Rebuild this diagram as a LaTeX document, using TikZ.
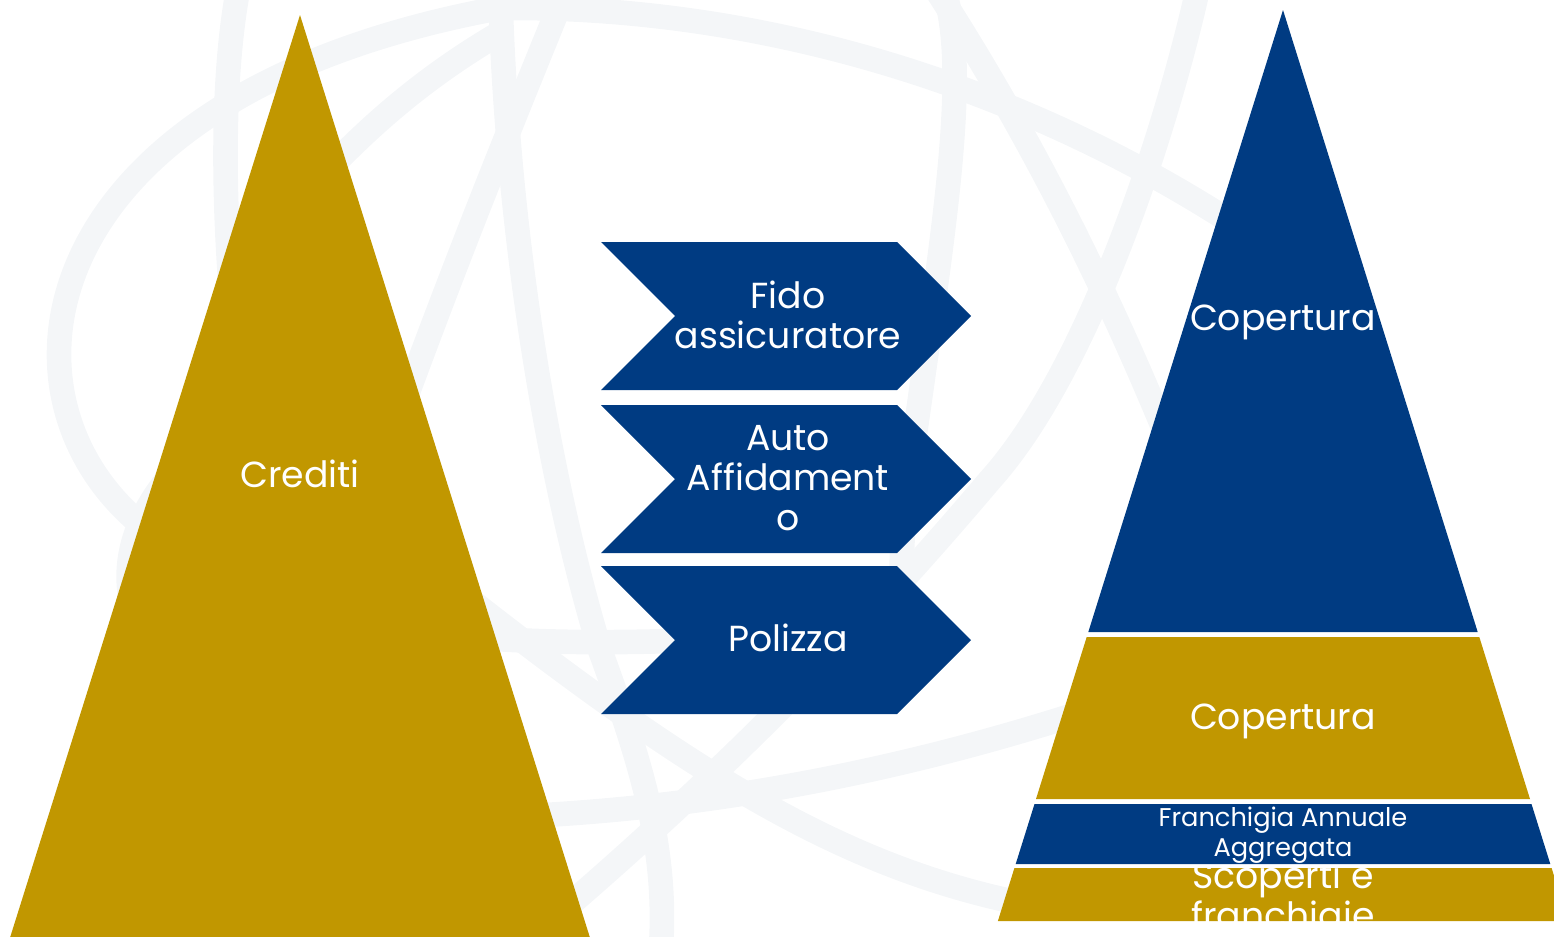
\documentclass[tikz,border=0pt]{standalone}
\usepackage{fontspec}
\setmainfont{Poppins}
\usepackage{tikz}
\usetikzlibrary{calc}

\definecolor{oro}{RGB}{193,151,0}
\definecolor{blu}{RGB}{0,59,130}
\definecolor{sfondo}{RGB}{244,246,248}

\tikzset{
  swirl/.style={draw=sfondo,line width=7pt},
  lbl/.style={text=white,align=center,inner sep=0pt,font=\fontsize{10.3}{11.4}\selectfont},
  lblsmall/.style={text=white,align=center,inner sep=0pt,font=\fontsize{7.3}{8.5}\selectfont}
}

\begin{document}
\begin{tikzpicture}[x=0.01cm,y=-0.01cm]
            \useasboundingbox (0,0) rectangle (1554,936);
            \clip (0,0) rectangle (1554,936);
            % faint background
            \draw[swirl] (170,545) .. controls (-20,430) and (0,100) .. (500,8) .. controls (800,5) and (1100,110) .. (1340,300);
            \draw[swirl] (240,-20) .. controls (215,100) and (225,300) .. (250,450);
            \draw[swirl] (500,-20) .. controls (505,200) and (540,450) .. (600,650) .. controls (640,760) and (670,850) .. (660,960);
            \draw[swirl] (570,-20) .. controls (480,200) and (400,400) .. (300,700);
            \draw[swirl] (500,33) .. controls (420,80) and (330,150) .. (230,290);
            \draw[swirl] (940,-20) .. controls (975,60) and (940,250) .. (910,470) .. controls (900,540) and (900,580) .. (905,620);
            \draw[swirl] (930,-20) .. controls (1060,180) and (1150,380) .. (1230,600);
            \draw[swirl] (1200,-20) .. controls (1160,160) and (1080,380) .. (990,480) .. controls (880,610) and (740,760) .. (540,930);
            \draw[swirl] (175,470) .. controls (60,600) and (150,760) .. (545,815) .. controls (800,800) and (1000,740) .. (1120,700);
            \draw[swirl] (170,545) .. controls (280,625) and (450,650) .. (700,640);
            \draw[swirl] (470,600) .. controls (700,780) and (850,870) .. (1030,905);

            % crediti
            \fill[oro] (300,15) -- (597,960) -- (3,960) -- cycle;
            \node[lbl] (crediti) at (300,473.5) {Crediti};

            % chevrons
            \foreach \y in {316,479,640}
              \fill[blu] (601,\y-74) -- (897,\y-74) -- (971,\y) -- (897,\y+74) -- (601,\y+74) -- (675,\y) -- cycle;
            \node[lbl] (fido) at (788,315) {Fido\\assicuratore};
            \node[lbl] (auto) at (788,478) {Auto\\Affidament\\o};
            \node[lbl] (polizza) at (788,638) {Polizza};

            % piramide
            \fill[blu] (1283,10) -- (1477.7,632) -- (1088.3,632) -- cycle;
            \fill[oro] (1086.7,637) -- (1479.3,637) -- (1530,799) -- (1036,799) -- cycle;
            \fill[blu] (1034.5,804) -- (1531.5,804) -- (1550.3,864) -- (1015.7,864) -- cycle;
            \fill[oro] (1014.4,868) -- (1551.6,868) -- (1568.1,921) -- (997.9,921) -- cycle;
            \node[lbl] (coptop) at (1283,322) {Copertura};
            \node[lbl] (copmid) at (1283,721) {Copertura};
            \node[lblsmall] (franchigia) at (1283,835) {Franchigia Annuale\\Aggregata};
            \begin{scope}
              \clip (1014.4,868) -- (1551.6,868) -- (1568.1,921) -- (997.9,921) -- cycle;
              \node[lbl] (scoperti) at (1283,900) {Scoperti e\\franchigie};
            \end{scope}
        \end{tikzpicture}
\end{document}
